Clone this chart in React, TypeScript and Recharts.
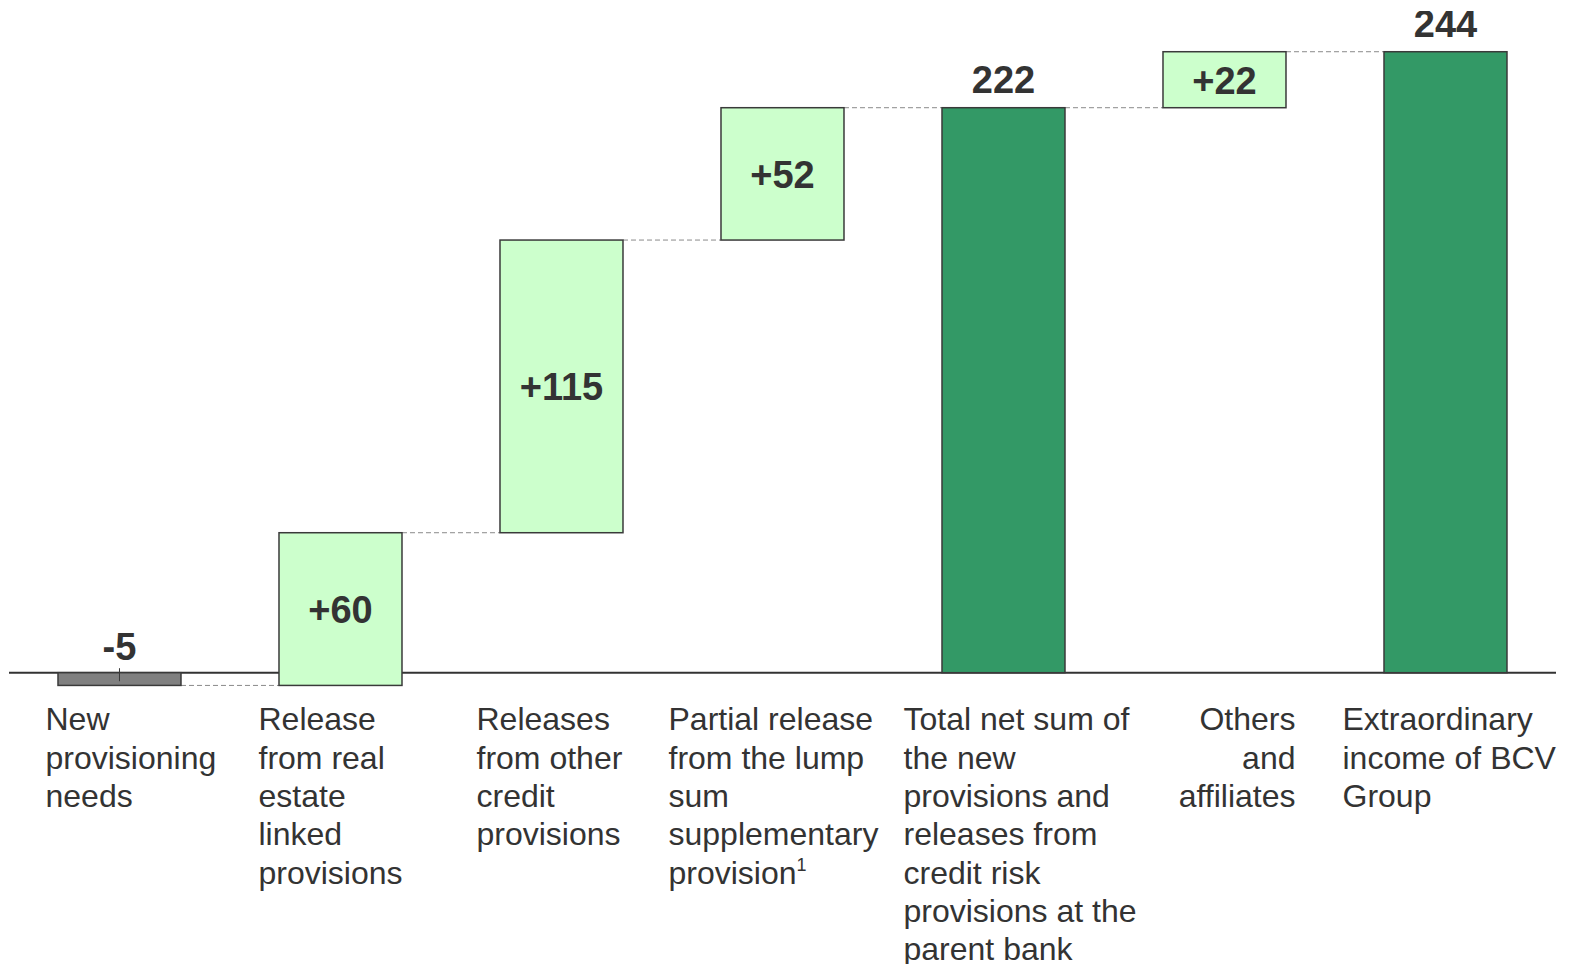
import React from 'react';
import { BarChart, Bar, XAxis, YAxis, ReferenceLine } from 'recharts';

// ---------- data ----------
const categories: string[] = [
  'New\nprovisioning\nneeds',
  'Release\nfrom real\nestate\nlinked\nprovisions',
  'Releases\nfrom other\ncredit\nprovisions',
  'Partial release\nfrom the lump\nsum\nsupplementary\nprovision^1',
  'Total net sum of\nthe new\nprovisions and\nreleases from\ncredit risk\nprovisions at the\nparent bank',
  'Others\nand\naffiliates',
  'Extraordinary\nincome of BCV\nGroup',
];
const values: number[] = [-5, 60, 115, 52, 222, 22, 244];
const kinds: string[] = ['delta', 'delta', 'delta', 'delta', 'total', 'delta', 'total'];

// ---------- layout / style (not data) ----------
const FONT = '"Liberation Sans", Arial, Helvetica, sans-serif';
const TEXT = '#333333';
const CAT_GAP = 0.2217; // barCategoryGap fraction
const labelOffsets = [-74, -82, -85, -114, -100, 71, -103];
const labelAnchors: ('start' | 'end')[] = ['start', 'start', 'start', 'start', 'start', 'end', 'start'];

let running = 0;
const data = categories.map((name, i) => {
  const v = values[i];
  let low: number;
  let high: number;
  if (kinds[i] === 'total') {
    low = 0;
    high = v;
    running = v;
  } else {
    const start = running;
    running += v;
    low = Math.min(start, running);
    high = Math.max(start, running);
  }
  const label = kinds[i] === 'total' ? String(v) : v > 0 ? `+${v}` : String(v);
  return { name, range: [low, high], value: v, kind: kinds[i], label };
});

const WaterfallShape = (props: any) => {
  const { x, y, width, height, payload, index } = props;
  const top = Math.min(y, y + height);
  const h = Math.abs(height);
  const kind = payload.kind;
  const v = payload.value;
  const isNeg = kind === 'delta' && v < 0;
  const fill = kind === 'total' ? '#339966' : isNeg ? '#808080' : '#CCFFCC';
  const endY = isNeg ? top + h : top;
  const gap = (width * 2 * CAT_GAP) / (1 - 2 * CAT_GAP);
  const isLast = index === data.length - 1;
  const cx = x + width / 2;

  let ly: number;
  if (kind === 'total') ly = top - 15;
  else if (isNeg) ly = top - 12.5;
  else ly = top + h / 2 + 14;

  return (
    <g>
      {!isLast && (
        <line x1={x + width} x2={x + width + gap} y1={endY} y2={endY} stroke="#8a8a8a" strokeWidth={1} strokeDasharray="5 3" />
      )}
      <rect x={x} y={top} width={width} height={h} fill={fill} stroke="#3a3a3a" strokeWidth={1.5} />
      {isNeg && <line x1={cx} x2={cx} y1={top - 4.5} y2={top + 8.5} stroke="#3a3a3a" strokeWidth={1} />}
      <text x={cx} y={ly} textAnchor="middle" fontFamily={FONT} fontWeight="bold" fontSize={38} fill={TEXT}>
        {payload.label}
      </text>
    </g>
  );
};

const CategoryTick = (props: any) => {
  const { x, y, payload, index } = props;
  const lines = String(payload.value).split('\n');
  const tx = x + labelOffsets[index];
  return (
    <text x={tx} y={y} textAnchor={labelAnchors[index]} fontFamily={FONT} fontSize={32} fill={TEXT}>
      {lines.map((l, i) => {
        const [main, sup] = l.split('^');
        return (
          <tspan key={i} x={tx} y={y + 6.7 + i * 38.3}>
            {main}
            {sup !== undefined && (
              <tspan fontSize={18} dy={-13}>
                {sup}
              </tspan>
            )}
          </tspan>
        );
      })}
    </text>
  );
};

export default function App() {
  return (
    <div style={{ width: 1567, height: 956, background: '#fff' }}>
      <BarChart
        width={1567}
        height={956}
        data={data}
        margin={{ top: 3, right: 19, bottom: 210.4, left: 1 }}
        barCategoryGap={`${CAT_GAP * 100}%`}
      >
        <YAxis hide domain={[-20, 260]} type="number" allowDataOverflow />
        <XAxis
          dataKey="name"
          height={30}
          interval={0}
          tickLine={false}
          axisLine={false}
          tickSize={0}
          tickMargin={0}
          tick={<CategoryTick />}
        />
        <ReferenceLine y={0} stroke="#333333" strokeWidth={2} zIndex={200} />
        <Bar dataKey="range" isAnimationActive={false} shape={<WaterfallShape />} />
      </BarChart>
    </div>
  );
}
